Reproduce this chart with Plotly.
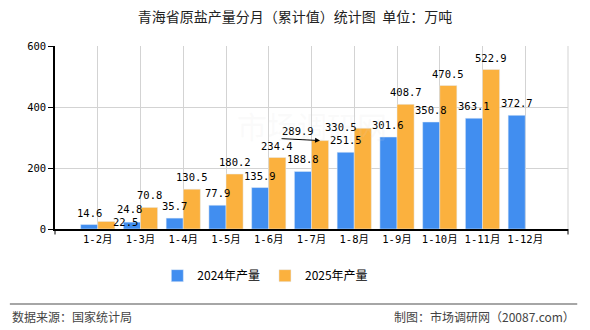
import plotly.graph_objects as go

categories = ["1-2月", "1-3月", "1-4月", "1-5月", "1-6月", "1-7月", "1-8月", "1-9月", "1-10月", "1-11月", "1-12月"]
values_2024 = [14.6, 22.5, 35.7, 77.9, 135.9, 188.8, 251.5, 301.6, 350.8, 363.1, 372.7]
values_2025 = [24.8, 70.8, 130.5, 180.2, 234.4, 289.9, 330.5, 408.7, 470.5, 522.9, None]
y_ticks = [0, 200, 400, 600]
callout_index = 5  # 2025 value shown with an arrow callout

title = "青海省原盐产量分月（累计值）统计图  单位：万吨"
source_text = "数据来源：国家统计局"
credit_text = "制图：市场调研网（20087.com）"

# label nudges in pixels (series, index) -> (dx, dy), used to mimic the reference's label layout
label_nudges = {(2024, 1): (-6, -12), (2025, 0): (23, 0), (2025, 6): (-22, -11)}

BLUE = "#418ef0"
ORANGE = "#fbb13e"
CJK = "Noto Sans CJK SC"
MONO = "DejaVu Sans Mono, Noto Sans CJK SC"
LABEL_SIZE = 10.5
BARGAP = 0.2

xs = list(range(len(categories)))

def fmt(v):
    return "" if v is None else f"{v:.1f}"

fig = go.Figure()
fig.add_trace(go.Bar(x=xs, y=values_2024, name="2024年产量", marker_color=BLUE))
fig.add_trace(go.Bar(x=xs, y=values_2025, name="2025年产量", marker_color=ORANGE))

# value labels, drawn above all bars
half = (1 - BARGAP) / 4
for series, vals, off in ((2024, values_2024, -half), (2025, values_2025, half)):
    for i, v in enumerate(vals):
        if v is None or (series == 2025 and i == callout_index):
            continue
        dx, dy = label_nudges.get((series, i), (0, 0))
        fig.add_annotation(
            x=i + off, y=v, xref="x", yref="y", text=fmt(v), showarrow=False,
            xshift=dx, yshift=12 + dy, yanchor="middle",
            font=dict(family=MONO, size=LABEL_SIZE, color="#000"),
        )

# arrow callout for the 2025 1-7月 value
fig.add_annotation(
    x=callout_index + half, y=values_2025[callout_index], xref="x", yref="y",
    text="", showarrow=True, arrowhead=2, arrowsize=1, arrowwidth=1, arrowcolor="#000",
    ax=-40, ay=-2, standoff=0,
)
fig.add_annotation(
    x=callout_index + half, y=values_2025[callout_index], xref="x", yref="y",
    text=fmt(values_2025[callout_index]), showarrow=False,
    xshift=-22, yshift=10, font=dict(family=MONO, size=LABEL_SIZE, color="#000"),
)

# watermark
fig.add_annotation(
    x=0.5, y=0.57, xref="paper", yref="paper", text="市场调研网", showarrow=False,
    font=dict(family=CJK, size=30, color="rgba(215,215,215,0.12)"),
)

# right border of plot
fig.add_shape(type="line", xref="paper", yref="paper", x0=1, x1=1, y0=0, y1=1,
              line=dict(color="#d3d3d3", width=1))
# end ticks on x axis
for px in (0, 1):
    fig.add_shape(type="line", xref="paper", yref="paper", x0=px, x1=px, y0=0, y1=-0.03,
                  line=dict(color="#000", width=1))

# footer separator line
fig.add_shape(type="line", xref="paper", yref="paper", x0=-0.088, x1=1.018, y0=-0.41, y1=-0.41,
              line=dict(color="#888", width=1.5))

fig.add_annotation(x=-0.088, y=-0.48, xref="paper", yref="paper", text=source_text,
                   showarrow=False, xanchor="left", yanchor="middle",
                   font=dict(family=CJK, size=12, color="#444"))
fig.add_annotation(x=1.018, y=-0.48, xref="paper", yref="paper", text=credit_text,
                   showarrow=False, xanchor="right", yanchor="middle",
                   font=dict(family=CJK, size=12, color="#444"))

fig.update_layout(
    width=590, height=330,
    margin=dict(l=55, r=22, t=46, b=101),
    paper_bgcolor="white", plot_bgcolor="white",
    barmode="group", bargap=BARGAP, bargroupgap=0,
    title=dict(text=title, x=0.5, xanchor="center", y=0.948, yanchor="middle",
               font=dict(family=CJK, size=14, color="#222")),
    font=dict(family=CJK, size=12, color="#000"),
    legend=dict(orientation="h", x=0.41, xanchor="center", y=-0.255, yanchor="middle",
                font=dict(family=CJK, size=12, color="#000"), itemwidth=30,
                traceorder="normal"),
    showlegend=True,
)
fig.update_xaxes(
    tickvals=xs, ticktext=categories, range=[-1, len(categories)],
    showgrid=True, gridcolor="#d3d3d3", gridwidth=1,
    showline=True, linecolor="#000", linewidth=1.5,
    ticks="", tickfont=dict(family=MONO, size=LABEL_SIZE, color="#000"),
    zeroline=False,
)
fig.update_yaxes(
    range=[0, 600], tickvals=y_ticks,
    showgrid=True, gridcolor="#d3d3d3", gridwidth=1,
    showline=True, linecolor="#000", linewidth=1.5,
    ticks="outside", ticklen=5, tickcolor="#000",
    tickfont=dict(family=MONO, size=LABEL_SIZE, color="#000"),
    zeroline=False,
)

fig.write_html("out.html")
